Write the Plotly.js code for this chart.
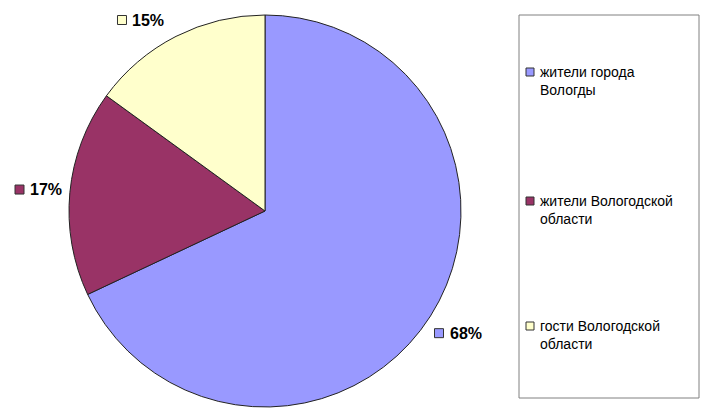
<!DOCTYPE html>
<html><head><meta charset="utf-8">
<script src="https://cdn.plot.ly/plotly-3.0.1.min.js"></script>
<style>html,body{margin:0;padding:0;background:#fff}</style>
</head><body><div id="chart" style="width:714px;height:416px"></div>
<script>
// Data
const labels = ['жители города Вологды', 'жители Вологодской области', 'гости Вологодской области'];
const values = [68, 17, 15];
const colors = ['#9999FF', '#993366', '#FFFFCC'];

const W = 714, H = 416;
const px = x => x / W;
const py = y => 1 - y / H;

// pie geometry (pixels)
const pie = {cx: 265, cy: 211, r: 196};
const labelR = 228;

// legend layout (pixels)
const legendBox = {x0: 519, x1: 699, y0: 15, y1: 398};
const legendRows = [72, 201, 326];
const sq = 8;

const breakLast = s => { const i = s.lastIndexOf(' '); return s.slice(0, i) + '<br>' + s.slice(i + 1); };
const font = 'Liberation Sans, Arial, sans-serif';

const shapes = [{
  type: 'rect', xref: 'paper', yref: 'paper',
  x0: px(legendBox.x0), x1: px(legendBox.x1), y0: py(legendBox.y1), y1: py(legendBox.y0),
  line: {color: '#808080', width: 1}, fillcolor: 'rgba(0,0,0,0)'
}];
const annotations = [];
labels.forEach((lab, i) => {
  const cy = legendRows[i];
  shapes.push({
    type: 'rect', xref: 'paper', yref: 'paper',
    x0: px(526), x1: px(526 + sq), y0: py(cy + sq / 2), y1: py(cy - sq / 2),
    line: {color: '#333333', width: 1}, fillcolor: colors[i]
  });
  annotations.push({
    xref: 'paper', yref: 'paper', x: px(538), y: py(cy + 9),
    xanchor: 'left', yanchor: 'middle', align: 'left', showarrow: false,
    text: breakLast(lab),
    font: {family: font, size: 14, color: '#000'}
  });
});

// data labels placed at slice mid-angles
const total = values.reduce((a, b) => a + b, 0);
let cum = 0;
values.forEach((v, i) => {
  const mid = (cum + v / 2) / total * 2 * Math.PI; // clockwise from 12 o'clock
  cum += v;
  let dx = Math.sin(mid) * labelR, dy = -Math.cos(mid) * labelR;
  const minY = 20 - pie.cy, maxY = H - 20 - pie.cy;
  if (dy < minY || dy > maxY) {
    dy = Math.max(minY, Math.min(maxY, dy));
    dx = Math.sign(dx) * Math.sqrt(labelR * labelR - dy * dy);
  }
  const gx = pie.cx + dx, gy = pie.cy + dy;
  const left = gx - 23;
  shapes.push({
    type: 'rect', xref: 'paper', yref: 'paper',
    x0: px(left), x1: px(left + 9), y0: py(gy + 4.5), y1: py(gy - 4.5),
    line: {color: '#333333', width: 1}, fillcolor: colors[i]
  });
  annotations.push({
    xref: 'paper', yref: 'paper', x: px(left + 13), y: py(gy),
    xanchor: 'left', yanchor: 'middle', showarrow: false,
    text: '<b>' + v + '%</b>',
    font: {family: font, size: 16, color: '#000'}
  });
});

const trace = {
  type: 'pie',
  labels: labels,
  values: values,
  sort: false,
  direction: 'clockwise',
  rotation: 0,
  marker: {colors: colors, line: {color: '#222222', width: 1}},
  textinfo: 'none',
  hoverinfo: 'none',
  showlegend: false,
  domain: {x: [px(pie.cx - pie.r), px(pie.cx + pie.r)], y: [py(pie.cy + pie.r), py(pie.cy - pie.r)]}
};

Plotly.newPlot('chart', [trace], {
  width: W, height: H,
  margin: {l: 0, r: 0, t: 0, b: 0},
  paper_bgcolor: '#fff',
  showlegend: false,
  shapes: shapes,
  annotations: annotations
}, {staticPlot: true});
</script></body></html>
